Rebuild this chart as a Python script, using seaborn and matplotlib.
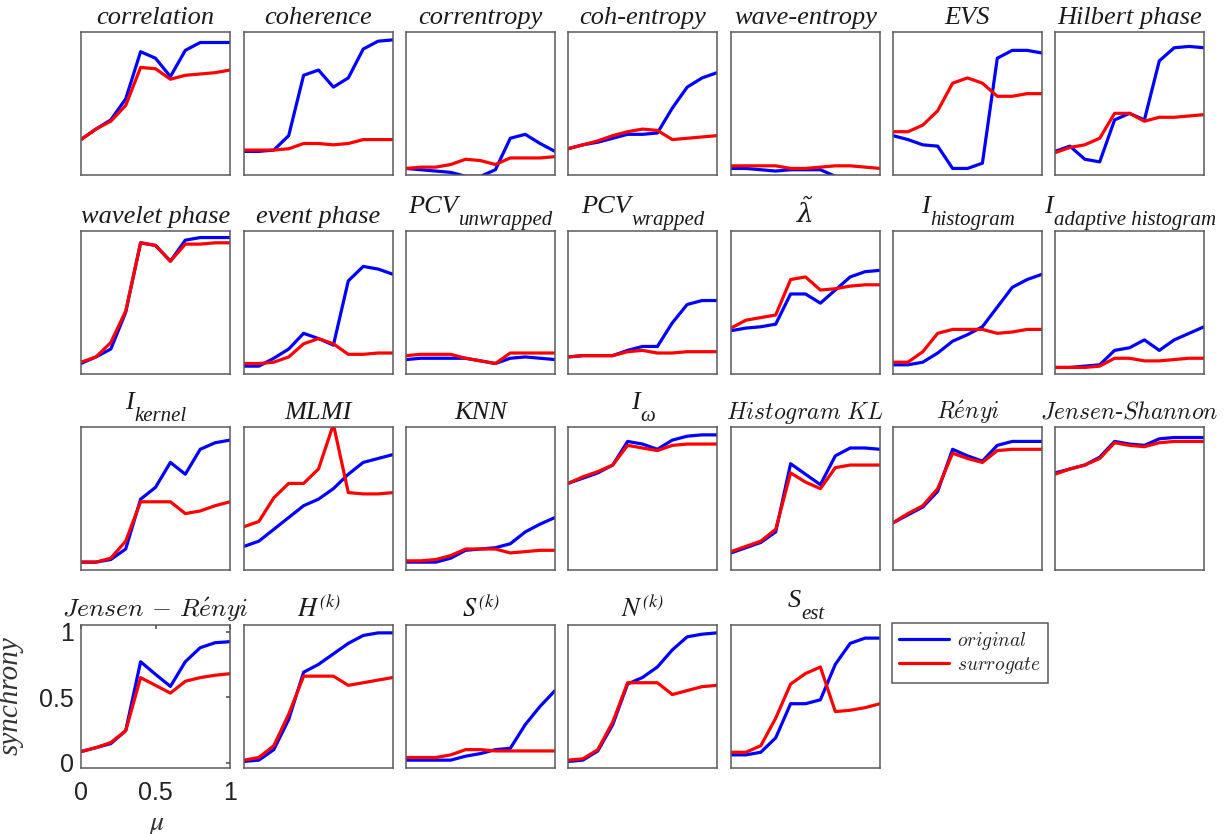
import matplotlib
matplotlib.use("Agg")
import pandas as pd
import matplotlib.pyplot as plt
import matplotlib.transforms as mtrans
import seaborn as sns

# coupling strength mu, 11 steps
mu = [0.0, 0.1, 0.2, 0.3, 0.4, 0.5, 0.6, 0.7, 0.8, 0.9, 1.0]

titles = [
    "correlation", "coherence", "correntropy", "coh-entropy", "wave-entropy", "EVS", "Hilbert phase",
    "wavelet phase", "event phase", "PCV", "PCV", r"$\tilde{\mathrm{\lambda}}$", "I", "I",
    "I", "MLMI", "KNN", "I", r"$\mathit{Histogram\ KL}$", r"$\mathit{R\acute{e}nyi}$",
    r"$\mathit{Jensen}$-$\mathit{Shannon}$",
    r"$Jensen\,-\,R\acute{e}nyi$", r"$H^{(k)}$", r"$S^{(k)}$", r"$N^{(k)}$", "S",
]
# subscripts, drawn MATLAB-style (almost full size, dropped low)
subscripts = {9: "unwrapped", 10: "wrapped", 12: "histogram", 13: "adaptive histogram",
              14: "kernel", 17: "ω", 25: "est"}
# titles typeset in LaTeX-like computer modern
cm_titles = [18, 19, 20, 21]

original = [
    [0.23, 0.31, 0.38, 0.54, 0.90, 0.85, 0.71, 0.91, 0.97, 0.97, 0.97],
    [0.14, 0.14, 0.15, 0.26, 0.72, 0.76, 0.63, 0.70, 0.92, 0.98, 0.99],
    [0.01, 0.00, -0.01, -0.02, -0.05, -0.05, 0.00, 0.24, 0.27, 0.20, 0.14],
    [0.16, 0.19, 0.21, 0.24, 0.27, 0.27, 0.28, 0.47, 0.63, 0.70, 0.74],
    [0.01, 0.01, 0.00, -0.01, 0.00, 0.00, 0.00, -0.05, -0.06, -0.06, -0.06],
    [0.26, 0.23, 0.19, 0.18, 0.01, 0.01, 0.05, 0.85, 0.91, 0.91, 0.89],
    [0.14, 0.18, 0.08, 0.06, 0.38, 0.43, 0.38, 0.83, 0.93, 0.94, 0.93],
    [0.04, 0.09, 0.15, 0.43, 0.96, 0.94, 0.82, 0.98, 1.00, 1.00, 1.00],
    [0.02, 0.02, 0.08, 0.15, 0.27, 0.23, 0.18, 0.67, 0.78, 0.76, 0.72],
    [0.07, 0.08, 0.08, 0.08, 0.08, 0.06, 0.04, 0.08, 0.09, 0.08, 0.07],
    [0.09, 0.10, 0.10, 0.10, 0.14, 0.17, 0.17, 0.35, 0.49, 0.52, 0.52],
    [0.29, 0.31, 0.32, 0.34, 0.57, 0.57, 0.50, 0.60, 0.70, 0.74, 0.75],
    [0.03, 0.03, 0.05, 0.12, 0.21, 0.26, 0.32, 0.47, 0.62, 0.68, 0.72],
    [0.01, 0.01, 0.02, 0.03, 0.14, 0.16, 0.22, 0.14, 0.22, 0.27, 0.32],
    [0.02, 0.02, 0.04, 0.12, 0.50, 0.59, 0.78, 0.69, 0.88, 0.93, 0.95],
    [0.14, 0.18, 0.27, 0.36, 0.45, 0.50, 0.58, 0.69, 0.78, 0.81, 0.84],
    [0.02, 0.02, 0.02, 0.05, 0.11, 0.12, 0.13, 0.16, 0.25, 0.31, 0.36],
    [0.62, 0.66, 0.70, 0.76, 0.94, 0.92, 0.88, 0.95, 0.98, 0.99, 0.99],
    [0.09, 0.13, 0.17, 0.25, 0.77, 0.69, 0.61, 0.83, 0.89, 0.89, 0.88],
    [0.32, 0.38, 0.44, 0.56, 0.88, 0.83, 0.79, 0.91, 0.94, 0.94, 0.94],
    [0.70, 0.73, 0.76, 0.82, 0.94, 0.92, 0.91, 0.96, 0.97, 0.97, 0.97],
    [0.085, 0.115, 0.146, 0.244, 0.77, 0.674, 0.582, 0.77, 0.877, 0.915, 0.923],
    [0.01, 0.02, 0.10, 0.33, 0.69, 0.75, 0.83, 0.91, 0.97, 0.99, 0.99],
    [0.02, 0.02, 0.02, 0.02, 0.05, 0.07, 0.10, 0.11, 0.29, 0.43, 0.55],
    [0.01, 0.02, 0.09, 0.29, 0.60, 0.65, 0.73, 0.86, 0.96, 0.98, 0.99],
    [0.06, 0.06, 0.08, 0.19, 0.45, 0.45, 0.48, 0.75, 0.91, 0.95, 0.95],
]

surrogate = [
    [0.23, 0.31, 0.37, 0.49, 0.78, 0.77, 0.69, 0.72, 0.73, 0.74, 0.76],
    [0.15, 0.15, 0.15, 0.16, 0.20, 0.20, 0.19, 0.20, 0.23, 0.23, 0.23],
    [0.01, 0.02, 0.02, 0.04, 0.08, 0.07, 0.04, 0.09, 0.09, 0.09, 0.10],
    [0.16, 0.19, 0.22, 0.26, 0.29, 0.31, 0.30, 0.23, 0.24, 0.25, 0.26],
    [0.03, 0.03, 0.03, 0.03, 0.01, 0.01, 0.02, 0.03, 0.03, 0.02, 0.01],
    [0.29, 0.29, 0.34, 0.45, 0.66, 0.70, 0.66, 0.56, 0.56, 0.58, 0.58],
    [0.13, 0.17, 0.19, 0.24, 0.43, 0.43, 0.37, 0.40, 0.40, 0.41, 0.42],
    [0.05, 0.09, 0.20, 0.44, 0.96, 0.94, 0.82, 0.95, 0.95, 0.96, 0.96],
    [0.04, 0.04, 0.05, 0.09, 0.19, 0.23, 0.19, 0.11, 0.11, 0.12, 0.12],
    [0.10, 0.11, 0.11, 0.11, 0.08, 0.06, 0.04, 0.12, 0.12, 0.12, 0.12],
    [0.09, 0.10, 0.10, 0.10, 0.13, 0.14, 0.12, 0.12, 0.13, 0.13, 0.13],
    [0.31, 0.37, 0.39, 0.41, 0.68, 0.70, 0.60, 0.61, 0.63, 0.64, 0.64],
    [0.05, 0.05, 0.13, 0.27, 0.30, 0.30, 0.30, 0.27, 0.28, 0.30, 0.30],
    [0.01, 0.01, 0.01, 0.02, 0.08, 0.08, 0.06, 0.06, 0.07, 0.08, 0.08],
    [0.02, 0.02, 0.05, 0.18, 0.48, 0.48, 0.48, 0.39, 0.41, 0.45, 0.48],
    [0.29, 0.33, 0.51, 0.62, 0.62, 0.73, 1.07, 0.55, 0.54, 0.54, 0.55],
    [0.03, 0.03, 0.04, 0.07, 0.12, 0.12, 0.12, 0.09, 0.10, 0.11, 0.11],
    [0.62, 0.67, 0.71, 0.76, 0.91, 0.89, 0.87, 0.91, 0.92, 0.92, 0.92],
    [0.10, 0.14, 0.18, 0.27, 0.70, 0.63, 0.58, 0.74, 0.76, 0.76, 0.76],
    [0.32, 0.39, 0.45, 0.58, 0.85, 0.81, 0.78, 0.87, 0.88, 0.88, 0.88],
    [0.69, 0.73, 0.76, 0.81, 0.93, 0.91, 0.90, 0.93, 0.94, 0.94, 0.94],
    [0.085, 0.115, 0.154, 0.244, 0.649, 0.59, 0.531, 0.621, 0.649, 0.667, 0.679],
    [0.02, 0.04, 0.13, 0.37, 0.66, 0.66, 0.66, 0.59, 0.61, 0.63, 0.65],
    [0.04, 0.04, 0.04, 0.06, 0.10, 0.10, 0.09, 0.09, 0.09, 0.09, 0.09],
    [0.02, 0.03, 0.10, 0.31, 0.61, 0.61, 0.61, 0.52, 0.55, 0.58, 0.59],
    [0.08, 0.08, 0.13, 0.34, 0.60, 0.68, 0.73, 0.39, 0.40, 0.42, 0.45],
]

sns.set_theme(style="white")
plt.rcParams.update({
    "font.family": ["Liberation Serif", "DejaVu Serif"],
    "font.style": "italic",
    "mathtext.fontset": "stix",
    "figure.facecolor": "white",
    "axes.facecolor": "white",
})

W, H = 1227, 834
fig = plt.figure(figsize=(W / 100, H / 100), dpi=100)
renderer = fig.canvas.get_renderer()

# panel grid in pixels
col_left = [81, 244, 406, 568, 731, 893, 1055]
row_top = [32, 231, 427, 625]
box_w, box_h = 149, 143
frame = "#5a5a5a"
ink = "#1a1a1a"
pal = {"original": "#0000FF", "surrogate": "#FF0000"}


def sub_title(ax, main, sub):
    # main letters + subscript, centred together over the panel
    t1 = ax.text(0.5, 1, main, transform=ax.transAxes, ha="left", va="baseline",
                 fontsize=19, color=ink)
    t2 = ax.text(0.5, 1, sub, transform=ax.transAxes, ha="left", va="baseline",
                 fontsize=15, color=ink)
    w1 = t1.get_window_extent(renderer).width
    w2 = t2.get_window_extent(renderer).width
    x0 = -(w1 + w2) / 2
    t1.set_transform(mtrans.offset_copy(ax.transAxes, fig=fig, x=x0, y=18, units="dots"))
    t2.set_transform(mtrans.offset_copy(ax.transAxes, fig=fig, x=x0 + w1 + 1, y=6, units="dots"))


first = None
for k, title in enumerate(titles):
    r, c = divmod(k, 7)
    ax = fig.add_axes([col_left[c] / W, 1 - (row_top[r] + box_h) / H, box_w / W, box_h / H])
    df = pd.DataFrame({
        "mu": mu + mu,
        "synchrony": original[k] + surrogate[k],
        "series": ["original"] * len(mu) + ["surrogate"] * len(mu),
    })
    sns.lineplot(data=df, x="mu", y="synchrony", hue="series", palette=pal,
                 hue_order=["original", "surrogate"], linewidth=2.3,
                 errorbar=None, legend=False, ax=ax)
    ax.set_xlim(0, 1)
    ax.set_ylim(-0.04, 1.05)
    ax.set_xlabel("")
    ax.set_ylabel("")
    for sp in ax.spines.values():
        sp.set_color(frame)
        sp.set_linewidth(1.1)

    if k in subscripts:
        sub_title(ax, title, subscripts[k])
    elif k in cm_titles:
        size = 18.5 if k == 21 else 17
        t = ax.set_title(title, fontsize=size, pad=6, color=ink)
        t.set_math_fontfamily("cm")
    else:
        t = ax.set_title(title, fontsize=19, pad=6, color=ink)
        if k == 11:
            t.set_math_fontfamily("dejavuserif")

    if k == 21:
        ax.set_xticks([0, 0.5, 1])
        ax.set_xticklabels(["0", "0.5", "1"])
        ax.set_yticks([0, 0.5, 1])
        ax.set_yticklabels(["0", "0.5", "1"])
        ax.tick_params(direction="in", length=3, top=True, right=True,
                       labelsize=18, color=frame, labelcolor="#222222")
        ax.tick_params(axis="x", pad=9)
        ax.tick_params(axis="y", pad=5)
        for lbl in ax.get_xticklabels() + ax.get_yticklabels():
            lbl.set_fontfamily("Liberation Sans")
            lbl.set_fontstyle("normal")
    else:
        ax.set_xticks([])
        ax.set_yticks([])

    if first is None:
        first = ax

fig.text(11 / W, 1 - 696 / H, "synchrony", rotation=90, ha="center", va="center",
         fontsize=21, color="#333333")
fig.text(157 / W, 1 - 826 / H, r"$\mu$", ha="center", va="center", fontsize=20, color="#333333")

leg = fig.legend(handles=first.lines[:2], labels=[r"$original$", r"$surrogate$"],
                 loc="upper left", bbox_to_anchor=(892 / W, 1 - 623 / H),
                 frameon=True, fancybox=False, edgecolor=frame, framealpha=1,
                 fontsize=14, handlelength=2.6, handletextpad=0.4, labelspacing=0.15,
                 borderpad=0.35, borderaxespad=0)
leg.get_frame().set_linewidth(1.1)
for t in leg.get_texts():
    t.set_math_fontfamily("cm")

fig.savefig("out.png", dpi=100)
